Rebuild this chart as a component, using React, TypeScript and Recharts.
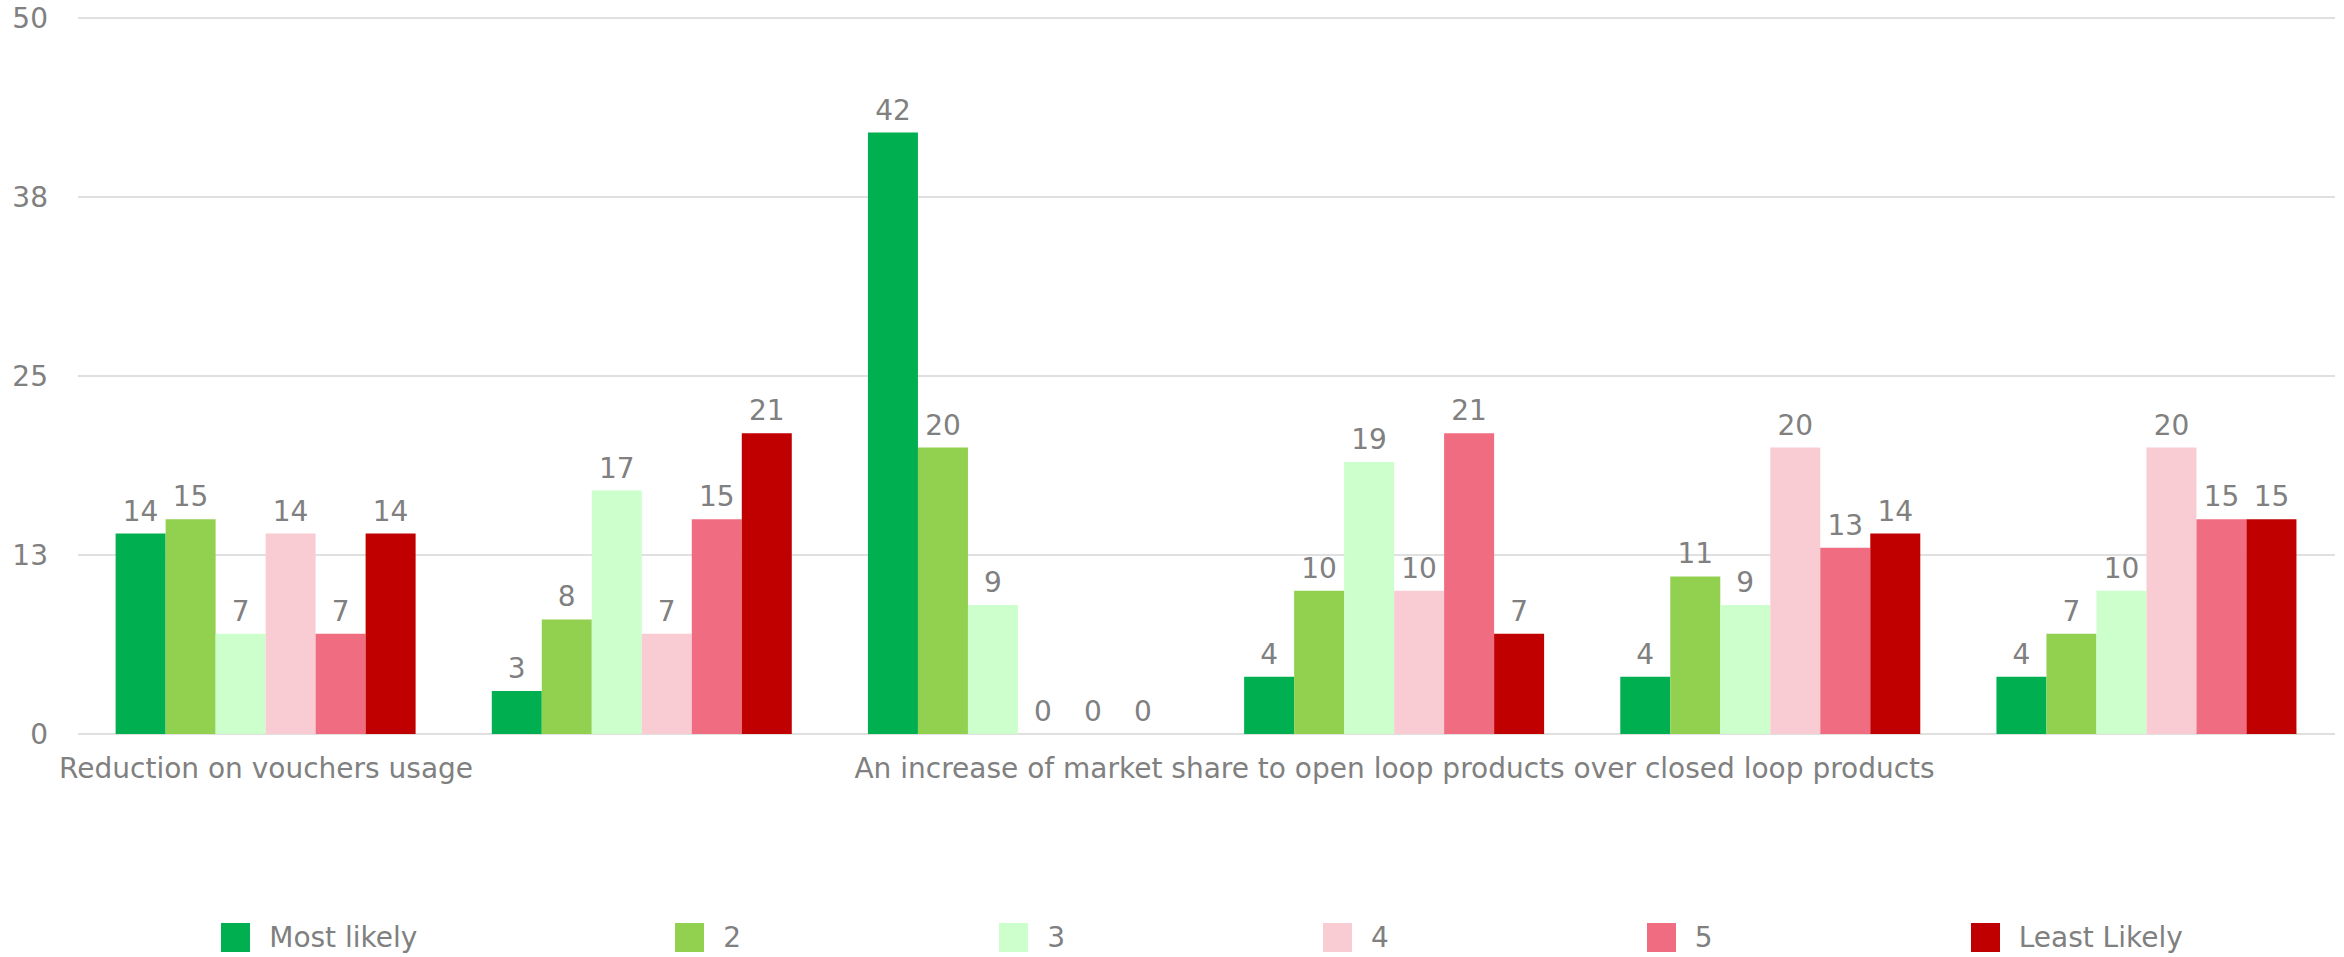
import { BarChart, Bar, XAxis, YAxis, CartesianGrid, Legend, LabelList } from 'recharts';

// categories (only every third label fits under the axis, as in the original)
const categories = [
  'Reduction on vouchers usage',
  'Lower cash handling costs',
  'Faster settlement for merchants',
  'An increase of market share to open loop products over closed loop products',
  'More cross-border spending',
  'Better customer data',
];

const seriesNames = ['Most likely', '2', '3', '4', '5', 'Least Likely'];
const seriesColors = ['#00B050', '#92D050', '#CCFFCC', '#F9CCD4', '#F06C80', '#C00000'];

const mostLikely = [14, 3, 42, 4, 4, 4];
const two = [15, 8, 20, 10, 11, 7];
const three = [7, 17, 9, 19, 9, 10];
const four = [14, 7, 0, 10, 20, 20];
const five = [7, 15, 0, 21, 13, 15];
const leastLikely = [14, 21, 0, 7, 14, 15];

const yTicks = [0, 12.5, 25, 37.5, 50];

const seriesValues = [mostLikely, two, three, four, five, leastLikely];

const data = categories.map((name, i) => {
  const row: Record<string, string | number> = { name };
  seriesValues.forEach((vals, s) => {
    row[`s${s}`] = vals[i];
  });
  return row;
});

const FONT = '"DejaVu Sans", sans-serif';
const GREY = '#808080';
const FS = 28;

// value label above each bar, also drawn for zero-height bars
const renderValue = (props: any) => {
  const { x, y, width, value } = props;
  if (value === undefined || value === null) return null;
  return (
    <text
      x={Number(x) + Number(width) / 2}
      y={Number(y) - 13}
      textAnchor="middle"
      fill={GREY}
      fontSize={FS}
      fontFamily={FONT}
    >
      {value}
    </text>
  );
};

const renderLegend = () => (
  <div
    style={{
      display: 'flex',
      justifyContent: 'center',
      alignItems: 'center',
      height: 36,
      fontFamily: FONT,
      fontSize: FS,
      color: GREY,
      paddingLeft: 78,
      paddingRight: 9,
      boxSizing: 'border-box',
    }}
  >
    {seriesNames.map((n, i) => (
      <div
        key={n}
        style={{
          display: 'flex',
          alignItems: 'center',
          marginRight: i < seriesNames.length - 1 ? 258 : 0,
        }}
      >
        <span style={{ width: 29, height: 29, background: seriesColors[i], marginRight: 19, display: 'inline-block' }} />
        <span>{n}</span>
      </div>
    ))}
  </div>
);

const App = () => {
  return (
    <div style={{ position: 'absolute', left: 0, top: 0, background: '#fff' }}>
      <BarChart
        width={2344}
        height={957}
        data={data}
        margin={{ top: 18, right: 9, left: 0, bottom: 2 }}
        barCategoryGap="10%"
        barGap={0}
      >
        <CartesianGrid vertical={false} stroke="#e0e0e0" strokeWidth={2} />
        <XAxis
          dataKey="name"
          interval={2}
          axisLine={false}
          tickLine={false}
          height={185}
          tickMargin={18}
          tick={{ fill: GREY, fontSize: FS, fontFamily: FONT }}
        />
        <YAxis
          domain={[0, 50]}
          ticks={yTicks}
          tickFormatter={(v: number) => String(Math.round(v))}
          width={78}
          axisLine={false}
          tickLine={false}
          tickMargin={24}
          tick={{ fill: GREY, fontSize: FS, fontFamily: FONT }}
        />
        <Legend verticalAlign="bottom" content={renderLegend} />
        {seriesNames.map((n, i) => (
          <Bar
            key={n}
            dataKey={`s${i}`}
            name={n}
            fill={seriesColors[i]}
            minPointSize={0.001}
            isAnimationActive={false}
          >
            <LabelList dataKey={`s${i}`} content={renderValue} />
          </Bar>
        ))}
      </BarChart>
    </div>
  );
};

export default App;
